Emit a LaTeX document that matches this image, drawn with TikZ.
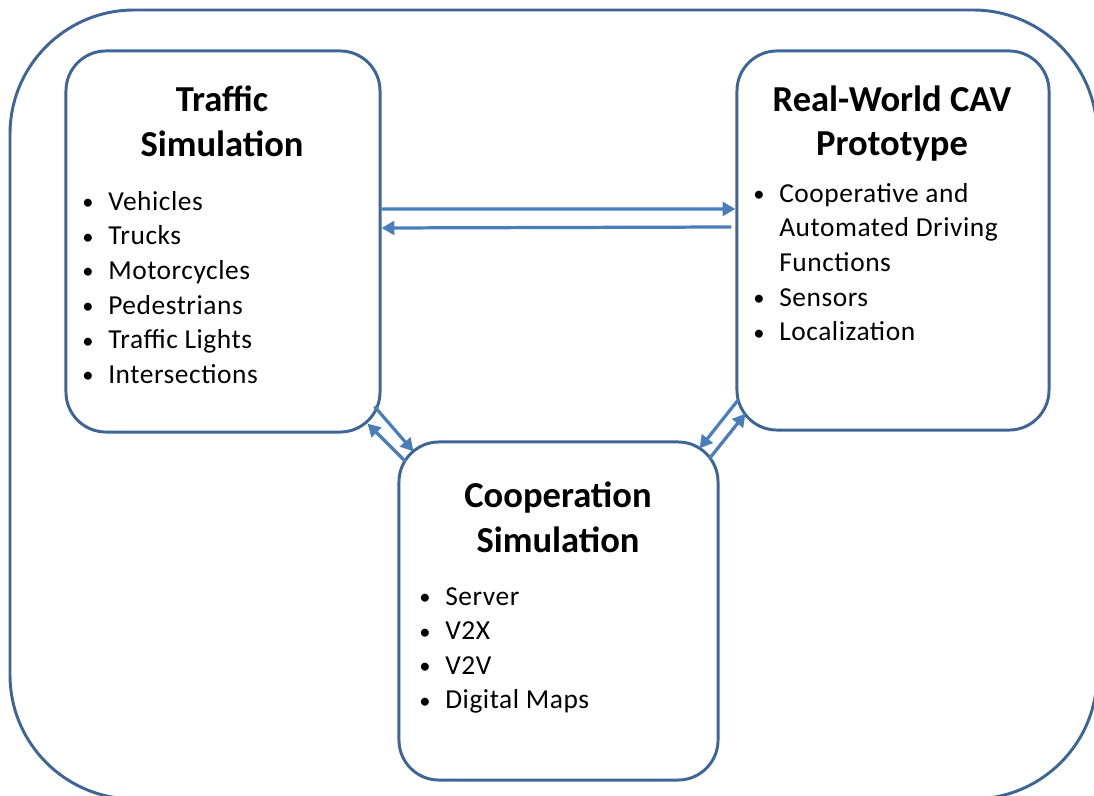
\documentclass[tikz,border=0pt]{standalone}
\usepackage{fontspec}
\setmainfont{Carlito}
\newfontfamily\listfont{Carlito}[LetterSpace=2.0]
\usetikzlibrary{arrows.meta,positioning,calc}

\definecolor{boxblue}{RGB}{63,101,150}
\definecolor{arrowblue}{RGB}{74,126,187}

\tikzset{
    box/.style={draw=boxblue, line width=2.1pt, rounded corners=1cm, fill=white},
    ttl/.style={font=\fontsize{26}{31.3}\selectfont\bfseries, align=center, anchor=north, inner sep=0pt},
    lst/.style={font=\listfont\fontsize{19.5}{24.6}\selectfont, align=left, anchor=north west, inner sep=0pt},
    link/.style={draw=arrowblue, line width=2.3pt, -{Triangle[length=0.32cm,width=0.34cm]}}
}
\newcommand{\itm}{\makebox[0.65cm][l]{\raisebox{0.02em}{\fontsize{16}{16}\selectfont\textbullet}}}
\newcommand{\cnt}{\hspace*{0.65cm}}

\begin{document}
\begin{tikzpicture}[x=0.025cm, y=-0.025cm]
    \useasboundingbox (0,0) rectangle (1094,796);

    % Outer frame
    \draw[draw=boxblue, line width=2.1pt, rounded corners=3.1cm] (10,10) rectangle (1097,799);

    % Boxes
    \node[box, minimum width=7.85cm, minimum height=9.525cm] (traffic) at (223,241.5) {};
    \node[box, minimum width=7.8cm, minimum height=9.475cm] (real) at (893,240.5) {};
    \node[box, minimum width=7.975cm, minimum height=8.45cm] (coop) at (558.5,611) {};

    % Traffic simulation
    \node[ttl] (traffictitle) at (222,86) {Traffic\\Simulation};
    \node[lst] (trafficlist) at (82,191) {\itm Vehicles\\\itm Trucks\\\itm Motorcycles\\\itm Pedestrians\\\itm Traffic Lights\\\itm Intersections};

    % Real-world prototype
    \node[ttl] (realtitle) at (892,86) {Real-World CAV\\Prototype};
    \node[lst] (reallist) at (753,183) {\itm Cooperative and\\\cnt Automated Driving\\\cnt Functions\\\itm Sensors\\\itm Localization};

    % Cooperation simulation
    \node[ttl] (cooptitle) at (558,482) {Cooperation\\Simulation};
    \node[lst] (cooplist) at (419,587) {\itm Server\\\itm V2X\\\itm V2V\\\itm Digital Maps};

    % Links
    \draw[link] ([yshift=0.8125cm]traffic.east) -- ([yshift=0.7875cm]real.west);
    \draw[link] ([yshift=0.3375cm,xshift=-0.1cm]real.west) -- ([yshift=0.3375cm]traffic.east);

    \draw[link] ([shift={(-7,-27)}]traffic.south east) -- ([shift={(16,11)}]coop.north west);
    \draw[link] ([shift={(8,21)}]coop.north west) -- ([shift={(-14,-10)}]traffic.south east);

    \draw[link] ([shift={(3,-32)}]real.south west) -- ([shift={(-20,8)}]coop.north east);
    \draw[link] ([shift={(-10,18)}]coop.north east) -- ([shift={(10,-18)}]real.south west);
\end{tikzpicture}
\end{document}
